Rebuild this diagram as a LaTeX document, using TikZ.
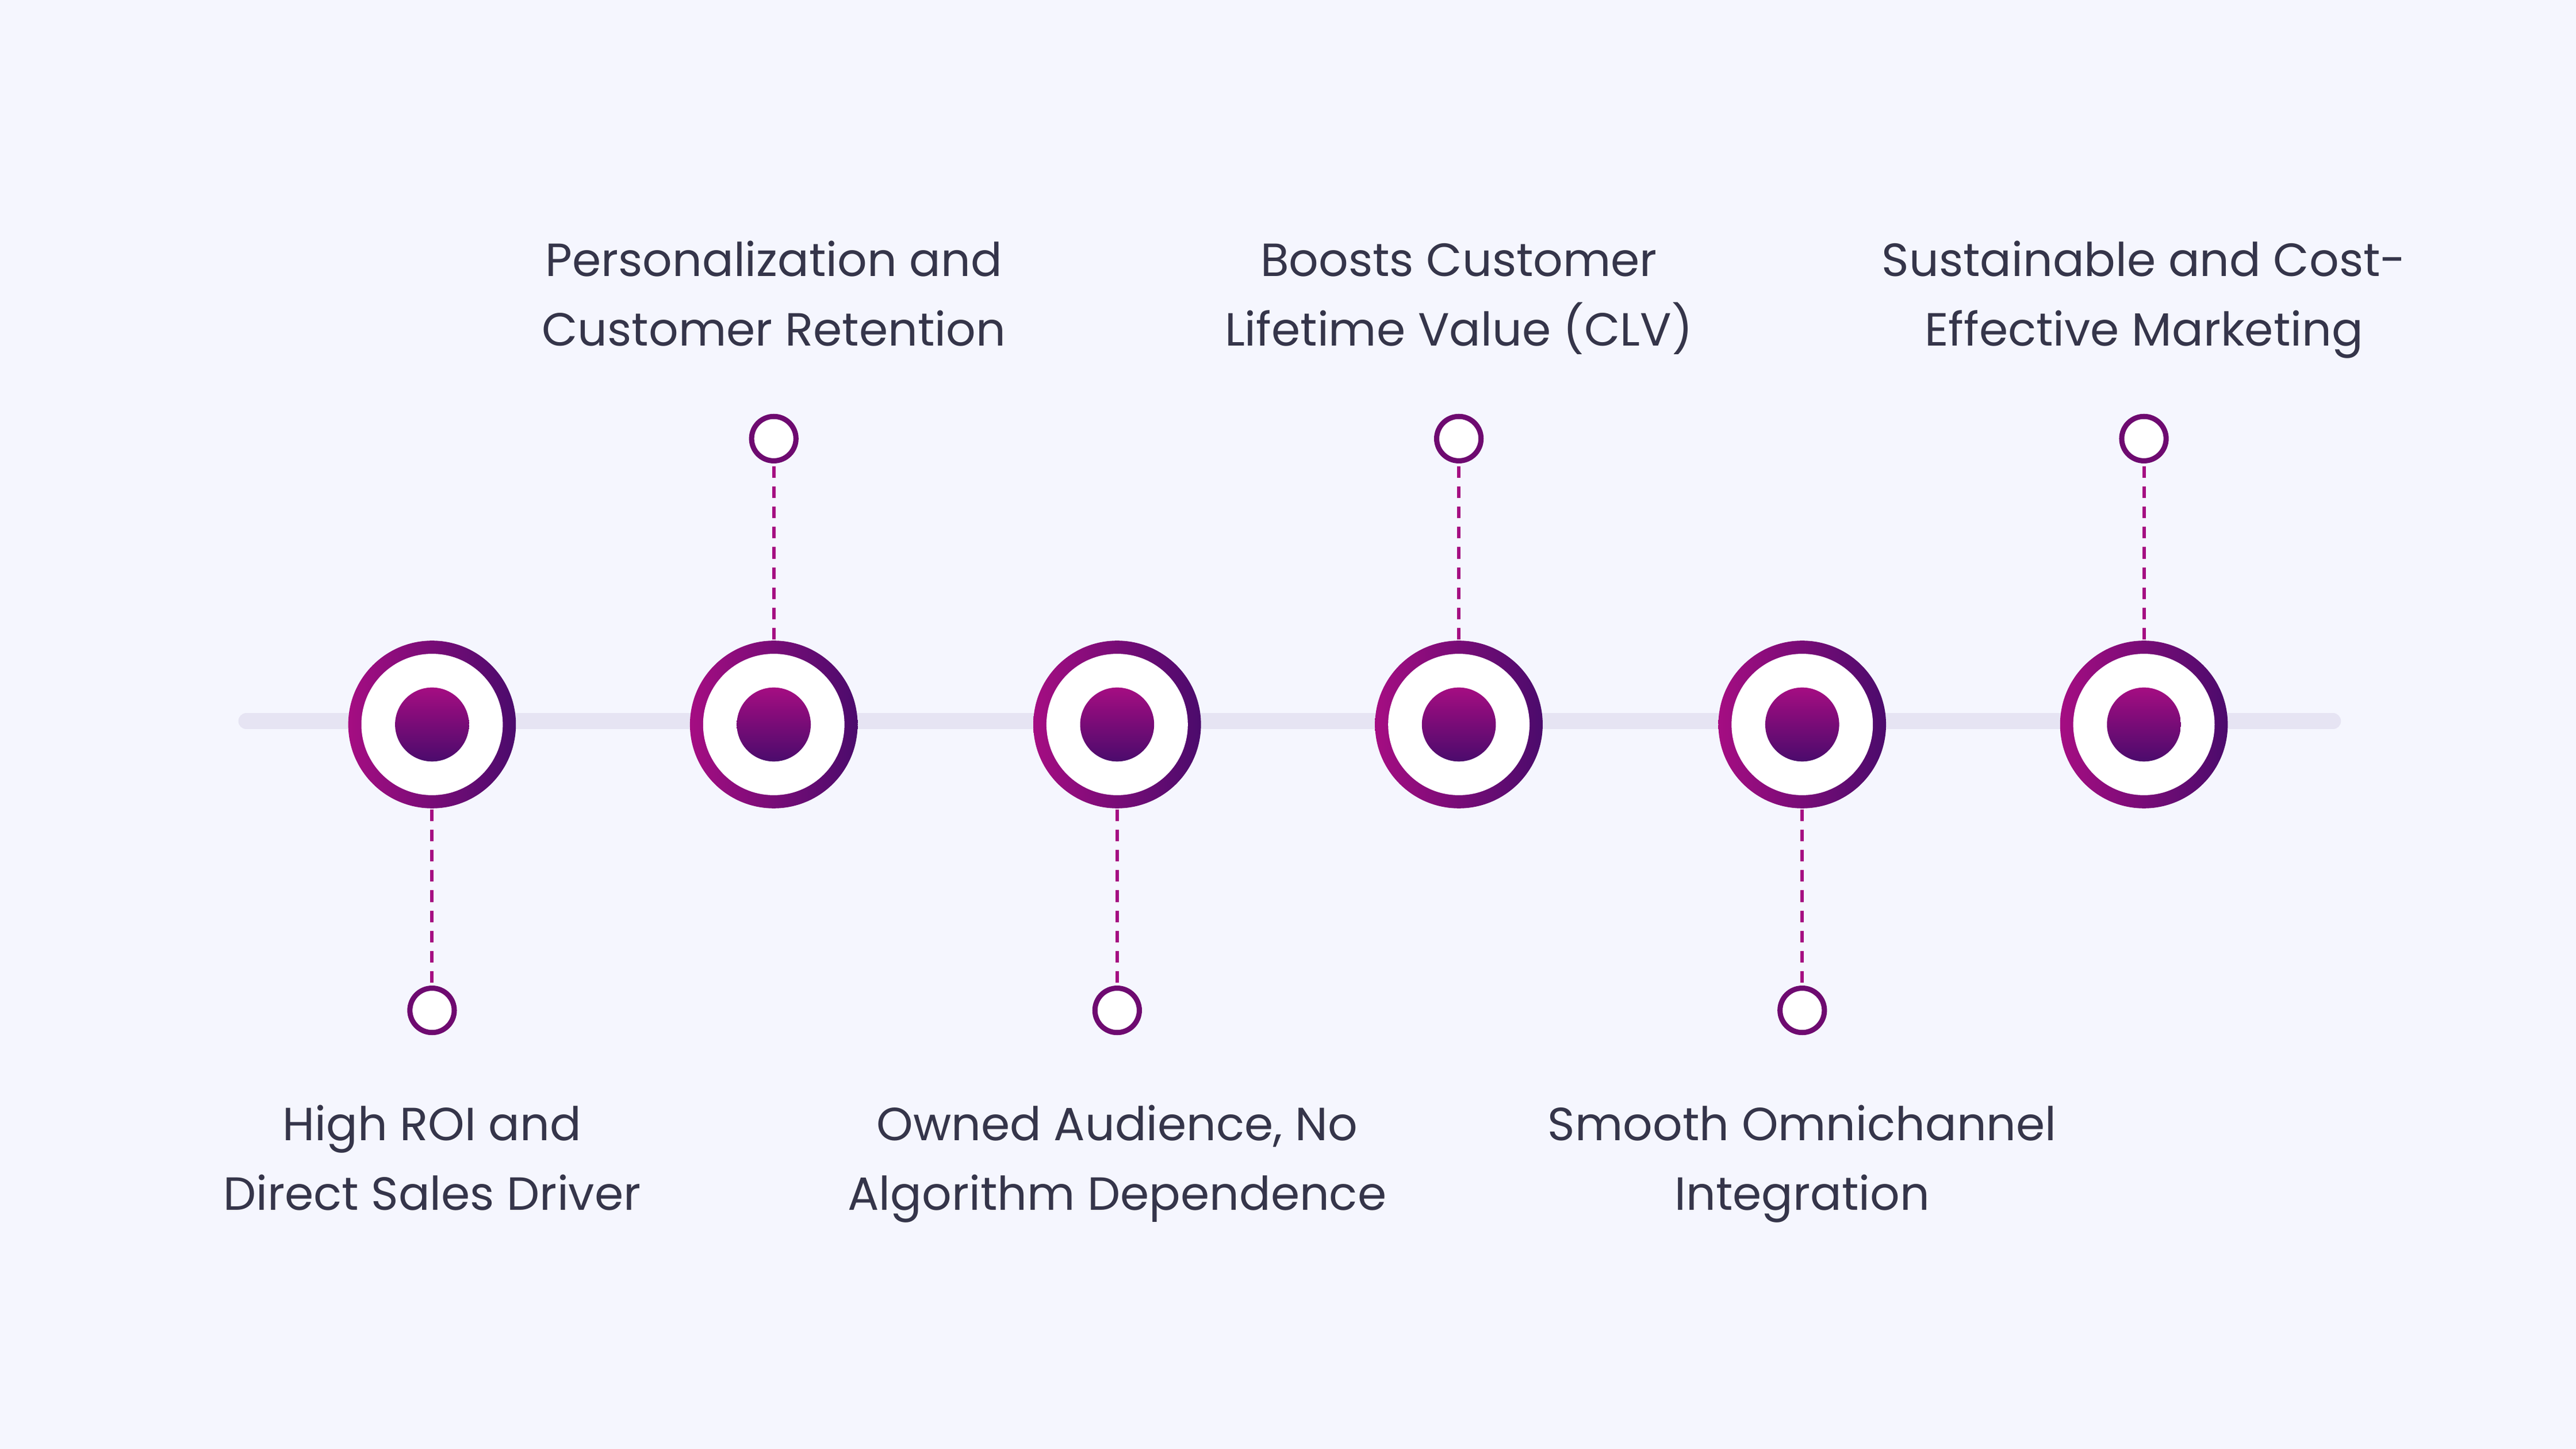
\documentclass[tikz,border=0pt]{standalone}
\usepackage{fontspec}
\setmainfont{Poppins}
\definecolor{bgcol}{HTML}{F5F6FE}
\definecolor{trackcol}{HTML}{E6E4F3}
\definecolor{magentacol}{HTML}{A50D82}
\definecolor{purplecol}{HTML}{4B0B6C}
\definecolor{pincol}{HTML}{6E0A70}
\definecolor{textcol}{HTML}{35354A}
\begin{document}
\begin{tikzpicture}[x=0.01cm,y=-0.01cm,
    ring/.style={circle,inner sep=0pt,minimum size=1.02cm,left color=magentacol,right color=purplecol,draw=none},
    hole/.style={circle,inner sep=0pt,minimum size=0.86cm,fill=white},
    dot/.style={circle,inner sep=0pt,minimum size=0.45cm,top color=magentacol,bottom color=purplecol},
    pin/.style={circle,inner sep=0pt,minimum size=0.27cm,draw=pincol,line width=0.9pt,fill=white},
    link/.style={magentacol,dashed,line width=0.6pt,dash pattern=on 2pt off 1.5pt},
    lbl/.style={align=center,anchor=north,inner sep=0pt,text=textcol,font=\fontsize{8.05}{12}\selectfont}]
        \fill[bgcol] (0,0) rectangle (1568,882);
        \draw[trackcol,line width=2.8pt,line cap=round] (150,439) -- (1420,439);
        \foreach \i/\x/\py/\ty/\txt in {1/263/615/664/{High ROI and\\Direct Sales Driver},
            2/471/267/138/{Personalization and\\Customer Retention},
            3/680/615/664/{Owned Audience, No\\Algorithm Dependence},
            4/888/267/138/{Boosts Customer\\Lifetime Value (CLV)},
            5/1097/615/664/{Smooth Omnichannel\\Integration},
            6/1305/267/138/{Sustainable and Cost-\\Effective Marketing}}{
          \node[ring] (m\i) at (\x,441) {};
          \node[hole] (h\i) at (\x,441) {};
          \node[dot] (d\i) at (\x,441) {};
          \node[pin] (s\i) at (\x,\py) {};
          \draw[link] (m\i) -- (s\i);
          \node[lbl] (t\i) at (\x,\ty) {\strut\txt};
        }
\end{tikzpicture}
\end{document}
